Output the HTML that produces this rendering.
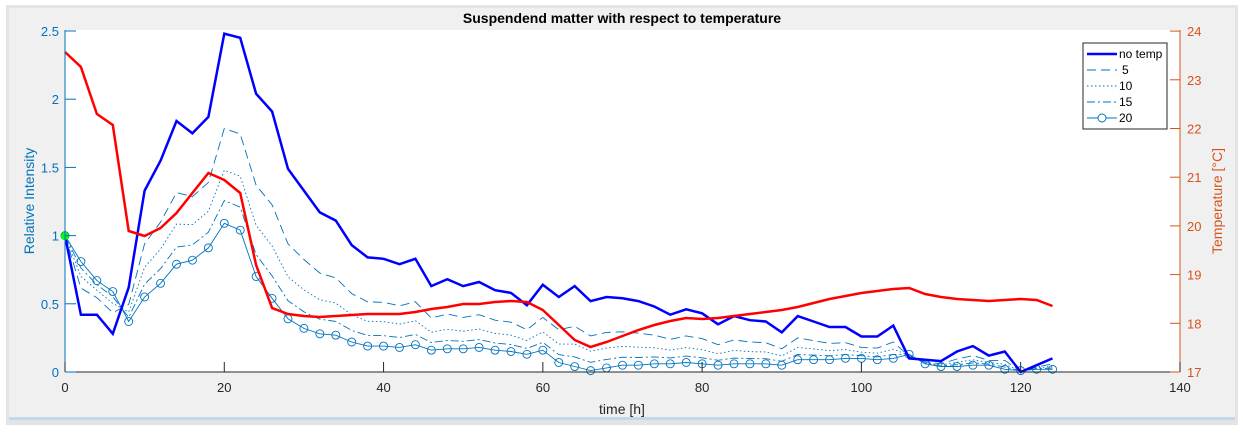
<!DOCTYPE html>
<html><head><meta charset="utf-8"><style>
body{margin:0;background:#fff;width:1243px;height:431px;overflow:hidden;font-family:"Liberation Sans",sans-serif}
</style></head><body>
<svg id="s" width="1243" height="431" xmlns="http://www.w3.org/2000/svg" font-family="Liberation Sans, sans-serif">
<rect x="0" y="0" width="1243" height="431" fill="#fff"/>
<rect x="6" y="5" width="1232" height="420" fill="#e4e4e4"/>
<rect x="9" y="8" width="1226" height="412" fill="#f0f0f0"/>
<rect x="9" y="417" width="1226" height="3" fill="#c5d7ec"/>
<rect x="65" y="30" width="1115" height="342" fill="#fff"/>
<text x="622" y="23" font-size="14" font-weight="bold" text-anchor="middle" fill="#000">Suspendend matter with respect to temperature</text>
<g id="g"></g>
</svg>
<script>
const g=document.getElementById('g');let h='';
const X=t=>65+t*7.964, Y=v=>372-v*136.4;
const blue=[1.0,0.42,0.42,0.28,0.62,1.33,1.55,1.84,1.75,1.87,2.48,2.45,2.04,1.91,1.49,1.33,1.17,1.11,0.93,0.84,0.83,0.79,0.83,0.63,0.68,0.63,0.66,0.60,0.58,0.49,0.64,0.55,0.63,0.52,0.55,0.54,0.52,0.48,0.42,0.46,0.43,0.35,0.41,0.38,0.37,0.29,0.41,0.37,0.33,0.33,0.26,0.26,0.34,0.10,0.09,0.08,0.15,0.19,0.12,0.15,0.0,0.05,0.10];
const c20=[1.0,0.81,0.67,0.59,0.37,0.55,0.65,0.79,0.82,0.91,1.09,1.04,0.70,0.54,0.39,0.32,0.28,0.27,0.22,0.19,0.19,0.18,0.20,0.16,0.17,0.17,0.18,0.16,0.15,0.13,0.16,0.07,0.04,0.01,0.03,0.05,0.05,0.06,0.06,0.07,0.06,0.05,0.06,0.06,0.06,0.05,0.09,0.09,0.09,0.10,0.10,0.09,0.10,0.13,0.06,0.04,0.04,0.05,0.05,0.02,0.01,0.02,0.02];
const red=[52,67,114,125,231,236,228,213,193,173,180,193,265,308,314,316,317,316,315,314,314,314,312,309,307,304,304,302,301,302,310,325,340,347,342,336,330,325,321,318,319,318,316,314,312,310,307,303,299,296,293,291,289,288,294,297,299,300,301,300,299,300,306];
const pts=a=>a.map((v,i)=>X(i*2).toFixed(1)+','+Y(v).toFixed(1)).join(' ');
const mix=f=>blue.map((b,i)=>c20[i]+(b-c20[i])*f);
const C='#0072bd';
h+=`<polyline points="${pts(mix(0.5))}" fill="none" stroke="${C}" stroke-width="0.9" stroke-dasharray="9,5"/>`;
h+=`<polyline points="${pts(mix(0.28))}" fill="none" stroke="${C}" stroke-width="0.9" stroke-dasharray="1.5,2.5"/>`;
h+=`<polyline points="${pts(mix(0.12))}" fill="none" stroke="${C}" stroke-width="0.9" stroke-dasharray="8,3,2,3"/>`;
h+=`<polyline points="${pts(c20)}" fill="none" stroke="${C}" stroke-width="0.9"/>`;
c20.forEach((v,i)=>{h+=`<circle cx="${X(i*2)}" cy="${Y(v)}" r="4" fill="none" stroke="${C}" stroke-width="0.9"/>`});
h+=`<polyline points="${pts(blue)}" fill="none" stroke="#0000ff" stroke-width="2.5"/>`;
h+=`<polyline points="${red.map((y,i)=>X(i*2).toFixed(1)+','+y).join(' ')}" fill="none" stroke="#ff0000" stroke-width="2.5"/>`;
h+=`<circle cx="65" cy="236" r="4" fill="#00ff00"/>`;
h+=`<line x1="65" y1="372" x2="1180" y2="372" stroke="#262626"/>`;
h+=`<line x1="65" y1="30" x2="65" y2="372" stroke="${C}"/>`;
h+=`<line x1="1180" y1="30" x2="1180" y2="372" stroke="#d95319"/>`;
for(let t=0;t<=140;t+=20){const x=X(t);h+=`<line x1="${x}" y1="372" x2="${x}" y2="362" stroke="#262626"/><text x="${x}" y="392" font-size="13" fill="#262626" text-anchor="middle">${t}</text>`;}
[0,0.5,1,1.5,2,2.5].forEach(v=>{const y=Y(v);h+=`<line x1="65" y1="${y}" x2="76" y2="${y}" stroke="${C}"/><text x="59" y="${y+5}" font-size="13" fill="${C}" text-anchor="end">${v}</text>`;});
for(let d=17;d<=24;d++){const y=372-(d-17)*48.7;h+=`<line x1="1170" y1="${y}" x2="1180" y2="${y}" stroke="#d95319"/><text x="1187" y="${y+5}" font-size="13" fill="#d95319">${d}</text>`;}
h+=`<text x="622" y="414" font-size="14" fill="#262626" text-anchor="middle">time [h]</text>`;
h+=`<text transform="translate(34,201) rotate(-90)" font-size="14" fill="${C}" text-anchor="middle">Relative Intensity</text>`;
h+=`<text transform="translate(1222,201) rotate(-90)" font-size="14" fill="#d95319" text-anchor="middle">Temperature [°C]</text>`;
h+=`<rect x="1083" y="43" width="84" height="86" fill="#fff" stroke="#262626"/>`;
const L=[['no temp','#0000ff',2.5,''],[' 5',C,1,'9,5'],['10',C,1,'1.5,2.5'],['15',C,1,'8,3,2,3'],['20',C,1,'']];
L.forEach((l,i)=>{const y=54+i*16;h+=`<line x1="1087" y1="${y}" x2="1117" y2="${y}" stroke="${l[1]}" stroke-width="${l[2]}" stroke-dasharray="${l[3]}"/><text x="${i==1?1122:1119}" y="${y+4}" font-size="12" fill="#000">${l[0].trim()}</text>`;if(i==4)h+=`<circle cx="1102" cy="${y}" r="4" fill="#fff" stroke="${C}"/>`;});
g.innerHTML=h;
</script>
</body></html>
